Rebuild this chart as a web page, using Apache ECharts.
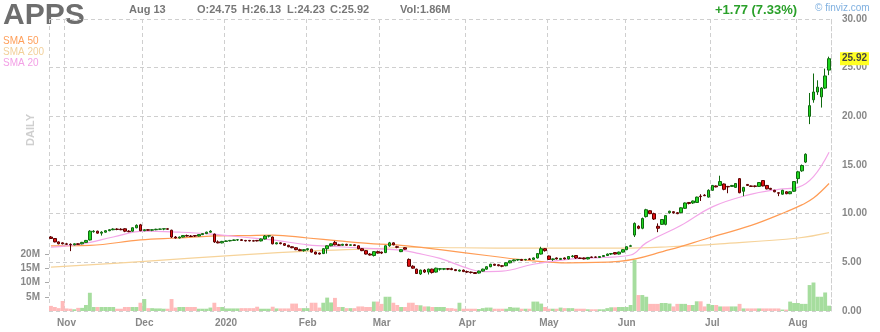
<!DOCTYPE html>
<html><head><meta charset="utf-8">
<script src="https://cdn.jsdelivr.net/npm/echarts@6/dist/echarts.min.js"></script>
<style>html,body{margin:0;padding:0;background:#fff}#c{width:880px;height:332px}</style>
</head><body><div id="c"></div>
<script>
// ---- DATA ----
const startDate = '2019-10-28';
const endDate = '2020-08-13';
const holidays = ['2019-11-28','2019-12-25','2020-01-01','2020-01-20','2020-02-17','2020-04-10','2020-05-25','2020-07-03'];
const monthNames = ['2020','Feb','Mar','Apr','May','Jun','Jul','Aug','Sep','Oct','Nov','Dec'];

const opens = [7.6,7.45,7.1,7.0,6.9,6.85,6.8,6.9,6.9,7.05,7.3,8.15,8.2,8.0,8.1,8.25,8.35,8.42,8.4,8.45,
8.2,8.2,8.55,8.85,8.25,8.35,8.3,8.35,8.4,8.42,8.45,8.3,7.6,7.5,7.6,7.75,7.7,7.75,7.7,7.85,
7.95,8.1,7.9,7.1,7.0,7.15,7.2,7.25,7.3,7.32,7.25,7.25,7.22,7.25,7.2,7.4,7.7,7.6,6.9,7.0,
6.92,6.75,6.6,6.5,6.3,6.2,6.3,6.35,6.05,5.95,5.9,6.4,6.7,7.05,6.8,6.75,6.85,6.75,6.8,6.7,
6.4,6.2,5.85,5.7,6.1,6.05,6.0,6.7,7.0,6.6,6.1,6.5,5.3,4.6,4.3,3.8,4.2,4.0,4.3,4.0,
4.3,4.3,4.35,4.35,4.25,4.1,4.2,4.05,4.0,3.95,3.9,4.1,4.3,4.55,4.8,4.75,4.65,4.65,4.95,5.15,
5.25,5.3,5.25,5.35,5.3,5.45,5.85,6.4,5.65,5.3,5.45,5.3,5.45,5.35,5.6,5.7,5.45,5.45,5.35,5.55,
5.55,5.5,5.6,5.7,5.85,6.0,5.85,6.05,6.3,6.65,7.8,8.7,8.5,9.7,10.3,10.0,8.7,8.9,8.9,10.1,
10.2,10.1,10.1,10.55,11.15,11.1,11.15,11.8,11.9,11.7,12.4,12.85,12.9,13.05,12.8,12.8,12.7,13.6,12.3,13.0,
12.85,12.85,12.8,13.4,12.9,12.6,12.4,12.15,12.0,12.25,12.05,12.3,13.6,14.4,15.3,20.0,21.7,22.5,22.0,22.9,
24.75];
const highs = [7.7,7.5,7.15,7.05,7.0,6.95,6.95,6.95,7.1,7.3,8.3,8.3,8.25,8.2,8.3,8.4,8.5,8.5,8.5,8.5,
8.3,8.6,8.9,8.95,8.4,8.4,8.4,8.45,8.45,8.48,8.5,8.35,7.7,7.65,7.8,7.85,7.8,7.8,7.9,8.0,
8.15,8.3,7.95,7.25,7.2,7.25,7.3,7.35,7.38,7.4,7.3,7.3,7.3,7.3,7.45,7.8,7.75,7.65,7.05,7.05,
6.95,6.8,6.65,6.55,6.4,6.35,6.45,6.4,6.1,6.0,6.45,6.75,6.95,7.2,6.9,6.9,6.9,6.85,6.85,6.75,
6.45,6.25,5.95,6.15,6.2,6.1,6.75,7.1,7.05,6.7,6.35,6.55,5.4,4.7,4.35,4.25,4.3,4.35,4.35,4.45,
4.4,4.4,4.4,4.45,4.3,4.25,4.25,4.15,4.05,4.0,4.15,4.35,4.6,4.85,4.85,4.8,4.7,5.0,5.2,5.3,
5.3,5.35,5.35,5.45,5.5,5.95,6.6,6.45,5.7,5.4,5.5,5.45,5.5,5.65,5.75,5.75,5.5,5.5,5.55,5.6,
5.6,5.65,5.75,5.9,5.95,6.05,6.1,6.35,6.65,6.8,9.1,8.8,9.6,10.5,10.35,10.1,9.0,9.45,9.85,10.3,
10.25,10.15,10.65,11.15,11.2,11.35,11.75,12.0,12.0,12.5,12.95,12.9,13.9,13.1,12.85,12.95,13.15,13.65,12.75,13.05,
12.9,12.9,13.25,13.45,12.95,12.65,12.45,12.2,12.45,12.3,12.3,13.35,14.4,15.05,16.2,22.4,24.4,23.7,23.0,24.9,
26.13];
const lows = [7.4,7.05,6.85,6.85,6.8,6.15,6.75,6.8,6.85,7.0,7.25,8.05,7.95,7.75,8.05,8.2,8.3,8.3,8.3,8.1,
8.1,8.15,8.5,8.2,8.2,8.25,8.2,8.3,8.35,8.3,8.35,7.5,7.45,7.45,7.55,7.65,7.6,7.6,7.65,7.8,
7.9,8.05,7.0,6.95,6.95,7.1,7.15,7.2,7.2,7.2,7.15,7.15,7.15,7.15,7.15,7.35,7.55,6.85,6.85,6.85,
6.7,6.55,6.45,6.25,6.15,6.1,6.2,6.0,5.8,5.8,5.85,5.9,6.65,6.75,6.7,6.7,6.7,6.7,6.7,6.35,
6.15,5.8,5.7,5.6,5.9,5.85,5.95,6.6,6.75,6.45,6.05,6.3,4.55,4.35,3.8,3.7,3.9,3.75,3.85,3.95,
4.15,4.2,4.2,4.2,4.1,4.05,4.0,3.9,3.85,3.8,3.85,4.05,4.25,4.5,4.65,4.6,4.5,4.6,4.9,5.1,
5.15,5.15,5.2,5.25,5.25,5.4,5.8,6.1,5.25,5.15,5.3,5.25,5.3,5.3,5.5,5.35,5.35,5.3,5.3,5.45,
5.45,5.45,5.55,5.65,5.75,5.8,5.8,6.0,6.25,6.6,7.6,8.4,8.4,9.6,9.95,9.35,8.1,8.85,8.8,10.0,
10.0,9.95,10.05,10.5,10.95,11.0,11.1,11.3,11.8,11.65,12.35,12.7,12.85,12.4,12.1,12.75,12.65,12.1,11.8,12.85,
12.75,12.7,12.75,12.8,12.5,12.45,12.2,11.8,11.95,12.0,12.0,12.25,13.1,14.3,15.2,19.2,21.4,22.2,20.9,22.8,
24.23];
const closes = [7.45,7.1,6.9,6.9,6.85,6.8,6.9,6.85,7.05,7.25,8.2,8.2,8.0,8.1,8.25,8.35,8.42,8.38,8.35,8.2,
8.15,8.55,8.8,8.25,8.35,8.3,8.35,8.4,8.42,8.45,8.4,7.6,7.5,7.6,7.75,7.7,7.65,7.7,7.85,7.95,
8.1,8.2,7.1,7.0,7.15,7.2,7.25,7.3,7.32,7.25,7.2,7.2,7.18,7.2,7.4,7.7,7.72,6.9,7.0,6.92,
6.75,6.6,6.5,6.3,6.2,6.3,6.4,6.05,5.85,5.85,6.4,6.7,6.9,6.8,6.75,6.85,6.75,6.8,6.72,6.4,
6.2,5.85,5.75,6.1,5.95,5.95,6.7,7.0,6.8,6.55,6.3,6.35,4.6,4.4,3.85,4.2,4.0,4.3,3.95,4.4,
4.35,4.35,4.3,4.25,4.15,4.2,4.05,4.0,3.95,3.85,4.1,4.3,4.55,4.8,4.7,4.65,4.6,4.95,5.15,5.25,
5.28,5.2,5.3,5.3,5.45,5.9,6.4,6.2,5.3,5.35,5.35,5.4,5.35,5.6,5.65,5.45,5.4,5.35,5.5,5.5,
5.52,5.6,5.7,5.85,5.9,5.85,6.05,6.3,6.6,6.7,9.0,8.5,9.5,10.4,10.0,9.45,8.5,9.4,9.8,10.25,
10.1,10.0,10.6,11.1,11.05,11.3,11.7,11.75,11.85,12.4,12.9,12.75,13.3,12.5,12.75,12.9,13.1,12.15,12.7,12.9,
12.8,12.8,13.2,12.85,12.55,12.5,12.25,12.1,12.4,12.05,12.25,13.3,14.3,14.95,16.1,21.1,22.5,23.0,22.9,24.15,
25.92];
const volumesM = [1.8,1.4,1.0,3.5,0.9,0.8,0.6,1.1,1.1,2.1,6.4,1.4,1.4,1.4,1.4,1.4,1.4,0.8,0.8,1.4,
1.4,1.4,1.4,2.9,4.2,1.0,1.0,0.9,0.9,0.8,0.8,4.2,1.2,1.4,1.4,1.4,1.4,1.4,0.8,0.8,
0.8,1.2,2.9,1.4,1.4,0.9,0.9,0.9,0.9,1.0,1.0,1.0,1.0,1.5,0.8,0.8,0.8,1.5,0.9,0.9,
0.9,0.9,2.6,2.6,1.0,1.0,1.0,2.9,2.9,1.2,2.9,4.7,3.0,4.6,1.4,1.4,1.0,1.0,1.0,1.6,
1.6,1.4,1.4,3.3,3.3,2.5,5.0,5.0,2.9,2.1,1.4,1.4,2.9,2.9,2.1,2.0,1.6,1.6,1.4,1.4,
1.4,1.4,1.0,1.0,0.8,2.9,0.8,0.8,0.8,0.8,0.7,1.0,1.2,1.2,0.8,0.8,0.8,0.8,1.4,1.2,
1.2,0.8,0.8,0.8,3.3,3.3,2.6,1.4,0.8,0.8,0.8,1.2,1.0,1.0,1.0,0.8,0.8,0.8,0.6,0.6,
0.6,0.6,0.6,1.0,1.3,1.3,1.4,1.4,1.4,2.1,18.0,5.6,5.6,5.0,2.5,2.5,2.5,2.8,2.8,2.6,
1.6,2.5,2.5,2.5,2.1,2.1,3.4,3.4,1.6,2.5,2.1,2.1,1.6,1.6,1.6,1.6,1.6,2.5,0.9,0.9,
0.9,0.9,0.9,0.9,0.9,0.9,0.9,0.9,0.5,0.5,3.3,2.8,2.8,2.5,2.5,9.1,10.0,5.0,5.0,6.5,
1.86];

// moving averages read at sample points: [day index, value]
const sma20 = [[0,6.55],[8,6.9],[16,7.6],[24,8.2],[33,8.1],[40,7.95],[49,7.6],[57,7.3],[66,6.8],[74,6.6],[83,6.4],[90,6.25],[94,5.95],[100,5.4],[107,4.4],[111,4.05],[116,4.1],[124,4.8],[133,5.3],[142,5.5],[149,5.75],[153,7.0],[162,8.8],[170,10.7],[179,11.9],[187,12.5],[192,12.7],[196,13.8],[200,16.3]];
const sma50 = [[0,6.7],[10,6.75],[23,7.3],[33,7.5],[41,7.7],[50,7.75],[57,7.8],[66,7.5],[74,7.2],[83,6.9],[90,6.75],[100,6.3],[112,5.7],[124,5.15],[133,4.95],[146,5.1],[159,6.3],[169,7.5],[180,8.8],[189,10.2],[193,10.9],[196,11.6],[200,13.1]];
const sma200 = [[0,4.5],[24,5.1],[50,5.8],[66,6.15],[83,6.4],[92,6.55],[105,6.5],[124,6.45],[147,6.45],[159,6.6],[172,6.9],[192,7.5],[200,8.05]];

const priceMin = 0, priceMax = 30, priceStep = 5;
const volTicks = [5e6, 10e6, 15e6, 20e6];

// ---- BUILD ----
function tradingDays() {
  const out = [];
  let d = new Date(startDate + 'T00:00:00Z');
  const e = new Date(endDate + 'T00:00:00Z');
  while (d <= e) {
    const wd = d.getUTCDay();
    const s = d.toISOString().slice(0, 10);
    if (wd !== 0 && wd !== 6 && holidays.indexOf(s) < 0) out.push(s);
    d = new Date(d.getTime() + 86400000);
  }
  return out;
}
const dates = tradingDays();
const isMonthStart = i => i > 0 && dates[i].slice(5, 7) !== dates[i - 1].slice(5, 7);
const FONT = '"Liberation Sans", Arial, sans-serif';
const GRID = '#cfcfcf';

const chart = echarts.init(document.getElementById('c'), null, {renderer: 'canvas'});
const candles = dates.map((_, i) => [opens[i], closes[i], lows[i], highs[i]]);
const vols = dates.map((_, i) => ({
  value: volumesM[i] * 1e6,
  itemStyle: {color: closes[i] >= opens[i] ? '#a6dd9e' : '#ffbaba'}
}));
const last = closes[closes.length - 1];
const prev = closes[closes.length - 2];

chart.setOption({
  animation: false,
  backgroundColor: '#fff',
  grid: [
    {left: 49, right: 49, top: 19, bottom: 21},
    {left: 49, right: 49, top: 254, bottom: 21}
  ],
  xAxis: [
    {type: 'category', gridIndex: 0, data: dates, boundaryGap: true,
     axisLine: {show: false}, axisTick: {show: false},
     axisLabel: {interval: i => isMonthStart(i), formatter: v => monthNames[parseInt(v.slice(5, 7), 10) - 1],
                 color: '#888', fontWeight: 'bold', fontSize: 10, fontFamily: FONT, margin: 7},
     splitLine: {show: true, interval: i => i === 0 || isMonthStart(i), lineStyle: {type: [4, 3], color: GRID, width: 1}}},
    {type: 'category', gridIndex: 1, data: dates, boundaryGap: true, show: false}
  ],
  yAxis: [
    {type: 'value', gridIndex: 0, position: 'right', min: priceMin, max: priceMax, interval: priceStep,
     axisLine: {show: true, lineStyle: {type: [4, 3], color: GRID}}, axisTick: {show: false},
     axisLabel: {formatter: v => v.toFixed(2), color: '#888', fontWeight: 'bold', fontSize: 10, fontFamily: FONT, margin: 11},
     splitLine: {show: true, lineStyle: {type: [4, 3], color: GRID}}},
    {type: 'value', gridIndex: 1, position: 'left', min: 0, max: 20e6,
     axisLine: {show: false},
     axisTick: {show: true, customValues: volTicks, length: 4, lineStyle: {color: '#aaa'}},
     axisLabel: {customValues: volTicks, formatter: v => (v / 1e6) + 'M', color: '#888', fontWeight: 'bold', fontSize: 10, fontFamily: FONT, margin: 9},
     splitLine: {show: false}}
  ],
  series: [
    {type: 'bar', xAxisIndex: 1, yAxisIndex: 1, data: vols, barCategoryGap: '0%', z: 1, silent: true},
    {type: 'line', xAxisIndex: 0, yAxisIndex: 0, data: sma200, smooth: 0.4, showSymbol: false, symbol: 'none', z: 2,
     lineStyle: {color: '#f6d39a', width: 1.2}},
    {type: 'line', xAxisIndex: 0, yAxisIndex: 0, data: sma50, smooth: 0.4, showSymbol: false, symbol: 'none', z: 2,
     lineStyle: {color: '#ff9c55', width: 1.2}},
    {type: 'line', xAxisIndex: 0, yAxisIndex: 0, data: sma20, smooth: 0.4, showSymbol: false, symbol: 'none', z: 2,
     lineStyle: {color: '#f3a6e8', width: 1.2}},
    {type: 'candlestick', xAxisIndex: 0, yAxisIndex: 0, data: candles, barWidth: 3, z: 3,
     itemStyle: {color: '#1fd81f', color0: '#e01010', borderColor: '#0f6a0f', borderColor0: '#5c0000', borderWidth: 1},
     markLine: {symbol: 'none', silent: true, animation: false,
       lineStyle: {width: 0, color: 'rgba(0,0,0,0)', opacity: 1},
       label: {show: true, position: 'end', formatter: () => last.toFixed(2), backgroundColor: '#ffff22', color: '#444',
               fontWeight: 'bold', fontSize: 10, fontFamily: FONT, padding: [2, 2, 1, 2], distance: 9, opacity: 1},
       data: [{yAxis: last}]}}
  ],
  graphic: [
    {type: 'text', x: 3, y: 16, style: {text: 'APPS', font: 'bold 30px ' + FONT, fill: '#6e6e6e', verticalAlign: 'middle'}},
    {type: 'text', x: 129, y: 10, style: {text: 'Aug 13', font: 'bold 11px ' + FONT, fill: '#777', verticalAlign: 'middle'}},
    {type: 'text', x: 197, y: 10, style: {text: 'O:' + opens[opens.length - 1].toFixed(2), font: 'bold 11px ' + FONT, fill: '#777', verticalAlign: 'middle'}},
    {type: 'text', x: 242, y: 10, style: {text: 'H:' + highs[highs.length - 1].toFixed(2), font: 'bold 11px ' + FONT, fill: '#777', verticalAlign: 'middle'}},
    {type: 'text', x: 287, y: 10, style: {text: 'L:' + lows[lows.length - 1].toFixed(2), font: 'bold 11px ' + FONT, fill: '#777', verticalAlign: 'middle'}},
    {type: 'text', x: 330, y: 10, style: {text: 'C:' + last.toFixed(2), font: 'bold 11px ' + FONT, fill: '#777', verticalAlign: 'middle'}},
    {type: 'text', x: 400, y: 10, style: {text: 'Vol:' + volumesM[volumesM.length - 1].toFixed(2) + 'M', font: 'bold 11px ' + FONT, fill: '#777', verticalAlign: 'middle'}},
    {type: 'text', x: 715, y: 10, style: {text: '+' + (last - prev).toFixed(2) + ' (' + ((last - prev) / prev * 100).toFixed(2) + '%)', font: 'bold 13px ' + FONT, fill: '#2aa02a', verticalAlign: 'middle'}},
    {type: 'text', x: 815, y: 8, style: {text: '\u00A9 finviz.com', font: '10px ' + FONT, fill: '#7fb0e0', verticalAlign: 'middle'}},
    {type: 'text', x: 3, y: 41, style: {text: 'SMA 50', font: '10px ' + FONT, fill: '#ff9f5a', verticalAlign: 'middle'}},
    {type: 'text', x: 3, y: 52, style: {text: 'SMA 200', font: '10px ' + FONT, fill: '#f2d09a', verticalAlign: 'middle'}},
    {type: 'text', x: 3, y: 63, style: {text: 'SMA 20', font: '10px ' + FONT, fill: '#f3a0e6', verticalAlign: 'middle'}},
    {type: 'text', x: 31, y: 130, rotation: Math.PI / 2, style: {text: 'DAILY', font: 'bold 11px ' + FONT, fill: '#cfcfcf', align: 'center', verticalAlign: 'middle'}}
  ]
});
</script></body></html>
